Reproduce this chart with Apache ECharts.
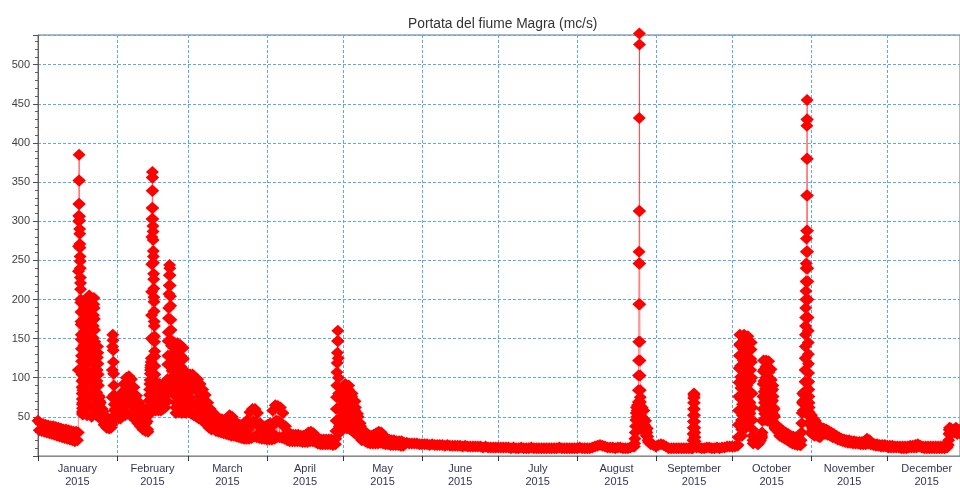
<!DOCTYPE html>
<html>
<head>
<meta charset="utf-8">
<script src="https://cdn.jsdelivr.net/npm/echarts@6/dist/echarts.min.js"></script>
<style>
  html, body { margin: 0; padding: 0; background: #fff; }
  #chart { width: 960px; height: 488px; }
</style>
</head>
<body>
<div id="chart"></div>
<script>
// River Magra flow readings (m3/s), grouped in stretches: [first reading, hours between readings, readings]
const janEarly = ['2015-01-01 00:00', 12, [45, 33, 42, 32, 41, 31, 40, 30, 39, 29, 38, 28, 38, 27, 37, 26, 36, 25, 35, 24, 34, 23, 34, 22, 33, 21, 32, 20, 31, 19, 31, 20]];
const janFlood = ['2015-01-16 20:00', 1, [30, 110, 236, 268, 300, 307, 322, 352, 385, 352, 322, 306, 301, 290, 284, 271, 266, 255, 249, 240, 228, 221, 213, 200, 196, 184, 172, 168, 155, 149, 137, 128, 121, 110, 104, 96, 88, 80, 73, 66, 61, 57, 53]];
const janSwell = ['2015-01-18 12:00', 2, [
  55, 68, 84, 97, 112, 126, 141, 157, 170, 186, 198, 190, 176, 160, 147, 131, 118, 102, 88, 74, 61,
  52, 66, 79, 95, 108, 123, 139, 152, 168, 181, 196, 205, 193, 178, 163, 149, 134, 120, 104, 90, 77, 63,
  50, 64, 78, 93, 107, 122, 137, 151, 166, 180, 194, 202, 189, 175, 161, 146, 131, 117, 103, 88, 74, 60,
  52, 66, 81, 96, 110, 126, 140, 132, 118, 104, 90, 77, 63, 55, 66, 75, 70, 62, 56]];
const janEbb = ['2015-01-25 12:00', 6, [68, 56, 46, 60, 57, 45, 40, 52, 50, 40, 36, 46, 45, 37, 35, 40, 42, 36, 40]];
const janSpate = ['2015-01-30 02:00', 2, [45, 75, 110, 140, 155, 148, 135, 120, 105, 90, 78, 66, 58, 52, 48]];
const febEarly = ['2015-01-31 06:00', 4, [47, 60, 72, 65, 50, 58, 70, 62, 48, 55, 68, 73, 60, 48, 58, 72, 80, 66, 52, 62, 78, 92, 84, 68, 52, 66, 84, 100, 88, 70, 54, 72, 90, 102, 86, 68, 52, 70, 88, 98, 82, 64, 50, 64, 80, 88, 74, 58, 46, 58, 72, 77, 64, 52, 42, 52, 64, 68, 56, 46, 38, 48, 58, 62, 50, 40, 34, 44, 54, 56, 46, 36, 32, 42, 50, 53, 44, 34, 31]];
const febRise = ['2015-02-13 12:00', 2, [52, 58, 64, 71, 78, 85, 92, 97, 105, 110, 113, 116, 120]];
const febFlood = ['2015-02-14 14:00', 1, [125, 150, 180, 210, 245, 280, 303, 317, 339, 356, 363, 356, 339, 317, 303, 294, 287, 276, 262, 255, 247, 233, 226, 214, 203, 197, 185, 172, 166, 153, 146, 134, 127, 115, 104, 96, 85, 77, 68, 62, 58]];
const febLull = ['2015-02-16 12:00', 4, [62, 75, 90, 82, 66, 58, 70, 88, 92, 78, 62, 58, 72, 90, 85, 70, 60, 66, 80, 92, 76, 62, 68]];
const febSecond = ['2015-02-20 18:00', 2, [70, 86, 98, 117, 128, 147, 158, 176, 189, 207, 218, 231, 244, 240, 231, 218, 204, 192, 174, 161, 148, 141, 130, 121, 109, 101, 90, 84]];
const febLate = ['2015-02-23 06:00', 2, [
  80, 95, 110, 125, 140, 145, 132, 118, 104, 90, 76, 62, 55, 68, 82, 96, 110, 124, 138, 144,
  130, 116, 102, 88, 74, 60, 56, 70, 84, 98, 112, 126, 140, 142, 128, 114, 100, 86, 72, 58,
  55, 69, 83, 97, 111, 125, 138, 124, 110, 96, 82, 68, 56, 66, 80, 95, 84, 68, 56]];
const marchHump = ['2015-02-28 06:00', 4, [55, 72, 90, 98, 80, 60, 56, 75, 95, 104, 88, 68, 54, 72, 92, 104, 90, 70, 52, 70, 88, 100, 86, 66, 50, 66, 84, 98, 82, 62, 48, 64, 80, 92, 76, 58, 46, 60, 74, 85, 70, 54, 44, 56, 68, 78, 64, 50, 40, 50, 60, 68, 56, 44, 36, 46, 56, 60, 50, 40, 34, 44, 54, 56, 46, 36]];
const springLow = ['2015-03-11 08:00', 8, [
  52, 42, 32, 50, 40, 31, 48, 38, 30, 47, 37, 29, 46, 36, 28, 48, 37, 27, 52, 39, 26, 50, 38, 26, 44, 34, 25, 42, 32, 24,
  40, 31, 23, 40, 30, 22, 42, 31, 22, 46, 34, 22, 56, 40, 23, 60, 44, 25, 60, 43, 24, 55, 38, 23, 42, 32, 22, 38, 30, 22,
  38, 30, 21, 40, 30, 21, 42, 31, 21, 58, 40, 22, 65, 45, 24, 64, 44, 24, 62, 42, 23, 55, 38, 22, 38, 28, 20, 30, 25, 19,
  28, 24, 19, 27, 23, 19, 27, 23, 19, 27, 23, 19, 26, 22, 18, 26, 22, 18, 27, 22, 18, 30, 24, 19, 31, 25, 19, 29, 23, 18,
  25, 20, 16, 22, 18, 15, 21, 18, 15, 21, 18, 15, 21, 17, 15, 21, 17, 15, 21, 17, 14]];
const aprilFlood = ['2015-04-28 00:00', 2, [15, 22, 32, 45, 60, 75, 90, 107, 119, 132, 147, 160, 147, 125, 100, 80, 62, 48, 38, 32, 30]];
const mayHump = ['2015-04-30 00:00', 4, [32, 45, 60, 75, 85, 70, 50, 40, 55, 72, 88, 92, 78, 60, 42, 35, 50, 68, 85, 90, 75, 58, 44, 34, 48, 62, 76, 80, 66, 50, 36, 30, 44, 58, 70, 62, 48, 36, 28, 40, 54, 50, 40, 30, 24, 32, 42, 38, 30, 24, 20, 26, 34, 32]];
const mayRecession = ['2015-05-09 00:00', 8, [30, 24, 19, 28, 22, 17, 27, 21, 16, 26, 20, 16, 27, 21, 16, 29, 22, 16, 31, 24, 17, 30, 23, 16, 26, 20, 15, 22, 18, 15, 21, 17, 14, 20, 17, 14, 20, 17, 14, 19, 16, 14, 19, 16, 13, 19, 16, 13]];
const summerLow = ['2015-05-25 00:00', 24, [
  17, 17, 16, 16, 16, 16, 15,
  15, 15, 15, 14, 15, 14, 14, 14, 14, 13,
  14, 13, 13, 13, 13, 13, 12, 13, 12, 12,
  12, 12, 12, 12, 11, 12, 11, 11, 11, 11,
  11, 11, 11, 11, 11, 10, 11, 10, 10, 11,
  10, 10, 10, 11, 10, 10, 10, 10, 10, 10,
  10, 10, 10, 10, 11, 10, 10, 10, 10, 10,
  10, 10, 11, 10, 10, 10, 10, 11, 12, 13,
  14, 13, 12, 11, 11, 11, 10, 11, 11, 10,
  10, 10, 11, 12]];
const augRise = ['2015-08-23 12:00', 3, [12, 16, 22, 30, 38, 46, 55, 62, 50, 58, 65, 55]];
const augFlood = ['2015-08-25 00:00', 1, [55, 62, 69, 84, 103, 122, 146, 194, 246, 261, 313, 432, 540, 526, 313, 246, 194, 146, 122, 103, 84, 75, 69, 64, 60, 56, 52, 48, 45, 42]];
const augEbb = ['2015-08-26 06:00', 4, [40, 50, 62, 45, 35, 48, 58, 40, 30, 38, 45, 32, 26, 30, 35, 25, 20, 18]];
const septLow = ['2015-08-30 00:00', 24, [15, 14, 12, 14, 15, 14, 12, 10, 10, 10, 10, 10, 10, 10, 10, 10, 10]];
const septFlood = ['2015-09-15 12:00', 1, [10, 14, 20, 28, 36, 44, 52, 60, 68, 74, 78, 80, 79, 75, 68, 60, 52, 44, 36, 30, 24, 19, 15, 12]];
const septLate = ['2015-09-17 00:00', 24, [11, 11, 10, 10, 11, 11, 10, 10, 11, 10, 11, 11, 12, 12, 12, 12, 13]];
const octFirst = ['2015-10-03 06:00', 2, [
  14, 24, 40, 58, 76, 94, 112, 128, 142, 155,
  143, 129, 115, 101, 87, 73, 59, 46, 34, 26,
  38, 52, 66, 80, 94, 108, 122, 136, 148, 155,
  141, 127, 113, 99, 85, 71, 57, 45, 36,
  48, 62, 76, 90, 104, 118, 132, 146, 153,
  139, 125, 111, 97, 83, 69, 56, 44,
  54, 68, 82, 96, 110, 124, 136, 145,
  120, 100, 80, 62, 46, 34, 26, 20, 16]];
const octNotch = ['2015-10-11 00:00', 3, [16, 15, 16, 18, 20, 19, 18, 22, 24, 20, 22, 28, 26, 24, 30, 45]];
const octSecond = ['2015-10-13 00:00', 2, [
  60, 76, 92, 108, 122, 110, 96, 82, 68, 54, 46,
  58, 72, 86, 100, 114, 122, 108, 94, 80, 66, 52, 45,
  57, 71, 85, 99, 113, 121, 107, 93, 79, 65, 51, 44,
  56, 70, 84, 98, 111, 97, 83, 69, 55, 45,
  57, 71, 85, 90, 76, 62, 50, 42, 52, 60,
  50, 42, 38, 36, 35, 38, 36, 34, 36, 37, 35, 34, 36, 35, 33, 34]];
const octTail = ['2015-10-19 00:00', 8, [36, 30, 26, 35, 29, 24, 32, 26, 22, 30, 24, 20, 28, 22, 18, 26, 20, 16, 25, 19, 15, 24, 18, 14, 23, 18, 14]];
const octBuild = ['2015-10-28 00:00', 3, [14, 20, 30, 42, 55, 68, 80, 70, 58, 66, 78, 82, 72]];
const octFlood = ['2015-10-29 15:00', 1, [95, 110, 125, 140, 155, 166, 177, 189, 200, 211, 223, 240, 246, 261, 278, 288, 333, 380, 422, 430, 455, 430, 380, 333, 288, 261, 240, 223, 200, 177, 160, 145, 130, 118, 106, 95, 85, 76, 68, 62, 56]];
const novRecession = ['2015-10-31 12:00', 4, [50, 40, 30, 45, 52, 38, 28, 35, 48, 42, 32, 26, 38, 45, 34, 27, 30, 40, 36, 28, 25, 32, 38, 30, 24]];
const lateAutumn = ['2015-11-05 00:00', 12, [
  36, 29, 35, 28, 34, 27, 32, 26, 30, 24, 28, 23, 26, 21, 24, 20, 22, 19, 21, 18,
  20, 17, 20, 17, 19, 16, 19, 16, 18, 16, 18, 15, 18, 15, 19, 15, 22, 16, 20, 15,
  16, 14, 15, 13, 15, 13, 14, 12, 14, 12, 14, 12,
  13, 11, 13, 11, 13, 11, 12, 11, 12, 11, 12, 10, 12, 10, 12, 10, 12, 11, 13, 11,
  13, 11, 14, 11, 15, 12, 13, 11, 12, 10, 12, 10, 12, 10, 12, 10, 12, 10, 12, 10,
  12, 10, 12, 10, 12, 10, 13, 11]];
const decRise = ['2015-12-25 00:00', 3, [14, 20, 28, 34, 36, 33, 30, 34]];
const yearEnd = ['2015-12-26 00:00', 12, [35, 29, 34, 30, 36, 28, 33, 29, 35, 30, 34, 28, 33, 29, 34, 30]];

const stretches = [janEarly, janFlood, janSwell, janEbb, janSpate, febEarly, febRise, febFlood, febLull,
  febSecond, febLate, marchHump, springLow, aprilFlood, mayHump, mayRecession, summerLow, augRise, augFlood,
  augEbb, septLow, septFlood, septLate, octFirst, octNotch, octSecond, octTail, octBuild, octFlood,
  novRecession, lateAutumn, decRise, yearEnd];

const monthNames = ['January', 'February', 'March', 'April', 'May', 'June', 'July', 'August',
  'September', 'October', 'November', 'December'];
const yearLabel = '2015';
const flowTicks = [50, 100, 150, 200, 250, 300, 350, 400, 450, 500];

// The x axis runs in days since 1 Jan 2015 00:00
const DAY = 24 * 3600 * 1000;
const yearStart = Date.UTC(2015, 0, 1);
function dayOf(s) {
  const [date, time] = s.split(' ');
  const [y, mo, d] = date.split('-').map(Number);
  const [h, mi] = time.split(':').map(Number);
  return (Date.UTC(y, mo - 1, d, h, mi) - yearStart) / DAY;
}

const readings = [];
stretches.forEach(([start, stepHours, flow]) => {
  const d0 = dayOf(start);
  flow.forEach((v, i) => readings.push([d0 + i * stepHours / 24, v]));
});

const monthStarts = [];
const monthMiddles = [];
for (let m = 0; m < 12; m++) {
  const a = (Date.UTC(2015, m, 1) - yearStart) / DAY;
  const b = (Date.UTC(2015, m + 1, 1) - yearStart) / DAY;
  monthStarts.push(a);
  monthMiddles.push((a + b) / 2);
}
function monthOf(day) {
  let m = 0;
  while (m < 11 && monthStarts[m + 1] <= day) m++;
  return m;
}

const gridBlue = '#5aa8f2';
const chart = echarts.init(document.getElementById('chart'), null, { renderer: 'canvas' });
chart.setOption({
  animation: false,
  title: {
    text: 'Portata del fiume Magra (mc/s)',
    left: 403,
    top: 12,
    textStyle: { fontFamily: 'Liberation Sans', fontSize: 13.8, fontWeight: 'normal', color: '#333' }
  },
  grid: {
    left: 38, right: -2, top: 35, bottom: 29,
    show: true, borderColor: '#707070', borderWidth: 1, backgroundColor: 'transparent'
  },
  xAxis: {
    type: 'value',
    min: 0,
    max: dayOf('2015-12-29 14:00'),
    axisLine: { show: true, onZero: false, lineStyle: { color: '#8a8a8a', width: 1 } },
    axisTick: { show: true, length: 5, customValues: monthStarts, lineStyle: { color: '#333' } },
    axisLabel: {
      customValues: monthMiddles,
      formatter: v => monthNames[monthOf(v)] + '\n' + yearLabel,
      fontFamily: 'Liberation Sans', fontSize: 11, lineHeight: 13, color: '#34345a', margin: 6
    },
    splitLine: { show: true, lineStyle: { color: gridBlue, width: 1, type: [3, 2] } }
  },
  yAxis: {
    type: 'value',
    min: 0, max: 538, interval: 50,
    axisLine: { show: true, lineStyle: { color: '#606060', width: 1 } },
    axisTick: { show: true, length: 5, lineStyle: { color: '#505050' } },
    minorTick: { show: true, splitNumber: 5, length: 3, lineStyle: { color: '#606060' } },
    axisLabel: {
      formatter: v => (flowTicks.indexOf(v) >= 0 ? String(v) : ''),
      showMaxLabel: false,
      fontFamily: 'Liberation Sans', fontSize: 11, color: '#404040', margin: 8
    },
    splitLine: { show: true, lineStyle: { color: gridBlue, width: 1, type: [3, 2] } }
  },
  series: [{
    type: 'line',
    data: readings,
    clip: false,
    symbol: 'diamond',
    symbolSize: [13, 12],
    showSymbol: true,
    showAllSymbol: true,
    sampling: 'none',
    silent: true,
    itemStyle: { color: '#ff0000', borderWidth: 0 },
    lineStyle: { color: '#ff0000', width: 1, opacity: 0.5 }
  }]
});
</script>
</body>
</html>
